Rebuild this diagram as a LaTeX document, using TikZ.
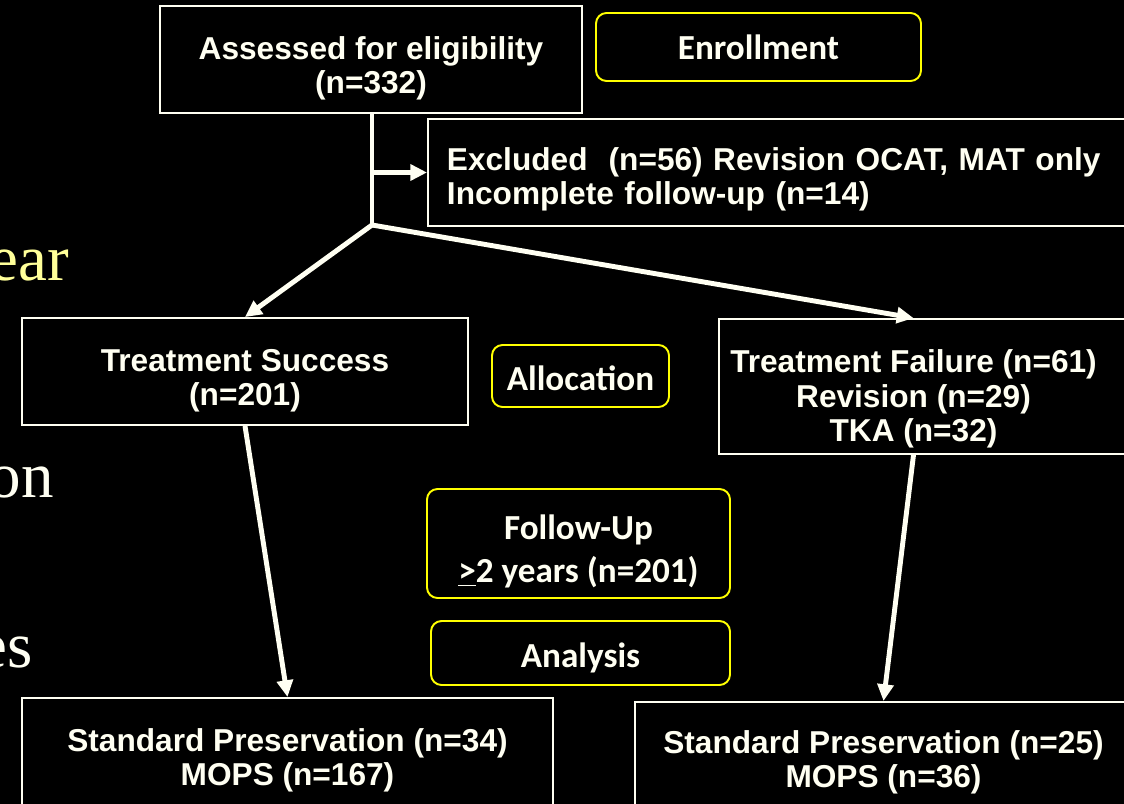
\documentclass[tikz,border=0pt]{standalone}
\usepackage{fontspec}
\setmainfont{Liberation Serif}
\newfontfamily\boxfont{Liberation Sans}
\newfontfamily\calfont{Carlito}
\usepackage{tikz}
\usetikzlibrary{shapes,arrows.meta,positioning,calc}
\definecolor{offwhite}{RGB}{255,255,242}
\definecolor{slideyellow}{RGB}{255,255,153}
\definecolor{stageyellow}{RGB}{255,255,0}
% lower a block of lines inside its box, keeping the box size
\newcommand{\lowlines}[3][c]{\raisebox{-#2}[\height][\depth]{\begin{tabular}{@{}#1@{}}#3\end{tabular}}}
\tikzset{
    wbox/.style   = {rectangle, draw=offwhite, line width=1.1pt, text=offwhite, align=center,
                     inner sep=0pt, font=\boxfont\bfseries\fontsize{18pt}{19.5pt}\selectfont},
    wtext/.style  = {inner sep=0pt, text=offwhite, align=center,
                     font=\boxfont\bfseries\fontsize{18pt}{19.5pt}\selectfont},
    stage/.style  = {rectangle, draw=stageyellow, line width=1.1pt, rounded corners=6pt, text=offwhite,
                     align=center, inner sep=0pt, font=\calfont\bfseries\fontsize{20pt}{24.5pt}\selectfont},
    slidetxt/.style = {anchor=base east, inner sep=0pt, font=\fontsize{37pt}{42pt}\selectfont}
}
\begin{document}
\begin{tikzpicture}[
        arr/.style  = {-{Triangle[length=9.5pt,width=9pt]}, line width=2.8pt, draw=offwhite},
        trunk/.style = {line width=2.8pt, draw=offwhite}
    ]
        % Slide background
        \fill[black] (0,0) rectangle (22.48,-16.08);
        \useasboundingbox (0,0) rectangle (22.48,-16.08);
        \clip (0,0) rectangle (22.48,-16.08);

        % Cut-off slide text
        \node[slidetxt, text=slideyellow] (sear) at (1.38,-5.6) {ear};
        \node[slidetxt, text=offwhite] (son) at (1.08,-9.94) {on};
        \node[slidetxt, text=offwhite] (ses) at (0.66,-13.34) {es};

        % Enrollment
        \node[wbox, minimum width=8.44cm, minimum height=2.14cm] (assessed) at (7.42,-1.19)
              {\lowlines{0.2cm}{Assessed for eligibility\\(n=332)}};
        \node[stage, minimum width=6.5cm, minimum height=1.36cm] (enroll) at (15.17,-0.94) {Enrollment};
        \node[wbox, anchor=west, minimum width=14.8cm, minimum height=2.14cm, text width=14.04cm,
              inner xsep=0.38cm, align=left] (excluded) at (8.54,-3.45)
              {\lowlines[l]{0.17cm}{Excluded\ \ (n=56) Revision OCAT, MAT only\\Incomplete follow-up (n=14)}};

        % Allocation
        \node[wbox, minimum width=8.92cm, minimum height=2.14cm] (success) at (4.9,-7.43)
              {\lowlines{0.2cm}{Treatment Success\\(n=201)}};
        \node[stage, minimum width=3.54cm, minimum height=1.24cm] (alloc) at (11.61,-7.52)
              {\lowlines{0.12cm}{Allocation}};
        \node[wbox, anchor=west, minimum width=8.6cm, minimum height=2.7cm] (failure) at (14.36,-7.73) {};
        \node[wtext] (failtxt) at (18.27,-7.98) {Treatment Failure (n=61)\\Revision (n=29)\\TKA (n=32)};

        % Follow-up and analysis
        \node[stage, minimum width=6.06cm, minimum height=2.18cm] (follow) at (11.57,-10.87)
              {\lowlines{0.18cm}{Follow-Up\\\underline{>}2 years (n=201)}};
        \node[stage, minimum width=5.98cm, minimum height=1.28cm] (analysis) at (11.61,-13.06)
              {\lowlines{0.11cm}{Analysis}};
        \node[wbox, anchor=north, minimum width=10.62cm, minimum height=2.4cm] (stdleft) at (5.75,-13.94)
              {\lowlines{0.08cm}{Standard Preservation (n=34)\\MOPS (n=167)}};
        \node[wbox, anchor=north, minimum width=9.94cm, minimum height=2.3cm] (stdright) at (17.67,-14.02)
              {\lowlines{0.09cm}{Standard Preservation (n=25)\\MOPS (n=36)}};

        % Connectors
        \coordinate (split) at (7.44,-4.5);
        \draw[trunk] (assessed.south -| split) -- (split);
        \draw[arr] (split |- excluded.west) -- (excluded.west);
        \draw[arr] (split) -- (success.north);
        \draw[arr] (split) -- (failtxt |- failure.north);
        \draw[arr] (success.south) -- (stdleft.north);
        \draw[arr] (failtxt |- failure.south) -- (stdright.north);

    \end{tikzpicture}
\end{document}
